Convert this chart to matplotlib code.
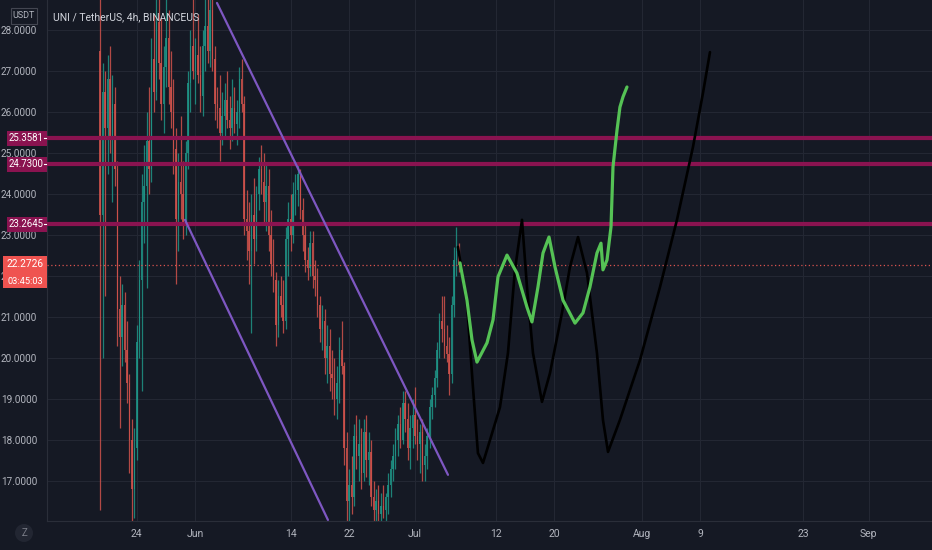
import numpy as np
import matplotlib
matplotlib.use("Agg")
import matplotlib.pyplot as plt
from matplotlib import transforms
from matplotlib.patches import Rectangle, Ellipse
from matplotlib.lines import Line2D

# x values are days relative to 1 July
first_candle_day = -43.0
candle_step = 1 / 3  # 8h candles
first_open = 27.5

highs = [28.8, 27.2, 27.0, 27.4, 27.6, 26.9, 26.6, 24.8, 22.0, 21.8,
         21.6, 20.9, 19.6, 18.5, 18.3, 20.8, 22.4, 24.5, 25.2, 26.0,
         26.6, 27.8, 28.4, 28.8, 28.8, 28.3, 27.6, 28.8, 28.5, 27.5,
         26.8, 25.6, 25.0, 25.9, 24.8, 25.3, 27.0, 28.0, 28.8, 27.8,
         28.4, 27.6, 28.0, 28.8, 28.8, 28.8, 28.8, 27.6, 26.6, 26.9,
         26.5, 26.7, 27.0, 26.4, 26.8, 26.6, 26.3, 27.1, 27.3, 26.4,
         24.1, 23.8, 24.0, 24.4, 24.2, 24.9, 25.2, 25.0, 24.7, 24.6,
         23.6, 22.9, 22.1, 21.9, 22.0, 21.9, 23.2, 23.8, 24.0, 24.3,
         24.5, 24.7, 24.6, 23.9, 23.3, 22.7, 23.1, 23.1, 22.4, 22.2,
         21.5, 21.3, 21.2, 20.8, 20.7, 20.2, 20.0, 19.8, 20.5, 20.9,
         19.9, 18.2, 17.3, 17.6, 18.4, 18.6, 18.5, 18.3, 18.5, 18.6,
         18.2, 18.0, 17.0, 16.8, 16.9, 16.7, 16.9, 16.7, 17.2, 17.5,
         17.9, 18.3, 18.6, 18.8, 19.2, 19.2, 18.9, 18.6, 19.0, 19.3,
         18.5, 18.4, 18.5, 17.9, 18.3, 19.0, 19.3, 19.7, 20.4, 21.1,
         21.5, 21.5, 20.8, 20.5, 21.5, 22.7, 23.2, 22.8]
lows = [16.3, 20.0, 21.5, 24.5, 25.0, 23.8, 24.2, 20.3, 18.3, 19.8,
        19.9, 18.9, 17.2, 16.0, 16.1, 17.5, 20.0, 19.2, 22.8, 21.7,
        24.0, 24.3, 26.0, 26.3, 26.8, 25.8, 25.5, 26.6, 26.2, 25.6,
        24.5, 21.8, 22.6, 23.4, 22.9, 23.0, 24.6, 26.0, 26.8, 26.2,
        26.7, 26.0, 25.9, 27.0, 27.2, 27.1, 27.0, 25.8, 25.6, 24.8,
        25.2, 25.4, 25.6, 25.1, 25.3, 25.5, 25.2, 25.6, 26.0, 23.0,
        22.4, 21.8, 20.6, 22.3, 22.6, 23.6, 24.0, 23.3, 23.1, 22.6,
        22.0, 21.6, 20.3, 20.5, 21.0, 20.6, 20.7, 22.0, 22.6, 22.8,
        23.5, 23.7, 23.4, 22.6, 22.1, 21.9, 22.0, 21.7, 21.5, 21.0,
        20.4, 20.2, 19.6, 19.4, 19.2, 19.0, 18.6, 18.5, 18.9, 19.6,
        17.4, 16.0, 16.0, 16.2, 16.4, 17.3, 17.0, 16.8, 17.0, 17.1,
        16.9, 16.4, 16.0, 16.0, 16.0, 16.0, 16.1, 16.0, 16.2, 16.6,
        17.0, 17.3, 17.6, 17.8, 17.9, 18.2, 17.5, 17.3, 17.8, 17.9,
        17.5, 17.2, 17.0, 17.0, 17.3, 17.8, 18.5, 18.8, 19.3, 20.0,
        20.4, 20.0, 19.9, 19.1, 19.4, 21.0, 22.0, 22.1]
closes = [23.5, 26.5, 25.6, 26.8, 25.4, 26.2, 24.6, 21.2, 20.5, 21.3,
          20.2, 19.4, 18.0, 16.8, 17.8, 20.4, 21.9, 23.8, 24.2, 25.3,
          24.6, 27.3, 26.5, 28.2, 27.2, 26.2, 27.1, 27.8, 26.6, 26.0,
          25.1, 23.4, 24.3, 24.0, 23.3, 25.0, 26.7, 27.6, 27.0, 27.4,
          26.9, 26.4, 27.6, 28.1, 27.5, 28.5, 27.3, 26.2, 26.1, 25.5,
          25.9, 26.3, 25.8, 25.6, 26.1, 25.7, 26.0, 26.8, 26.2, 23.4,
          23.1, 22.6, 23.5, 22.9, 24.0, 24.6, 24.3, 23.8, 24.2, 23.0,
          22.3, 21.9, 20.8, 21.5, 21.3, 20.9, 22.9, 23.4, 23.0, 24.0,
          24.1, 24.5, 23.6, 23.0, 22.4, 22.2, 22.8, 22.0, 21.9, 21.3,
          20.7, 20.9, 20.0, 20.3, 19.6, 19.5, 19.0, 19.4, 20.2, 19.8,
          17.8, 16.5, 16.9, 16.6, 18.1, 17.6, 17.9, 17.2, 18.2, 17.5,
          17.7, 16.6, 16.3, 16.5, 16.2, 16.4, 16.3, 16.6, 16.9, 17.3,
          17.6, 18.0, 18.4, 18.0, 18.9, 18.5, 17.8, 18.3, 18.6, 18.1,
          17.9, 18.2, 17.4, 17.6, 18.1, 18.8, 19.1, 19.5, 20.2, 20.9,
          20.7, 20.3, 20.1, 19.6, 21.3, 22.4, 22.6, 22.2726]

# hand drawn projections
green_days = [6.15, 7.1, 7.79, 8.47, 9.84, 10.66, 11.34, 12.57, 13.93, 15.3,
              15.98, 16.8, 17.49, 18.31, 19.13, 20.22, 21.86, 22.95, 23.9, 24.86,
              25.41, 25.68, 26.23, 26.78, 27.05, 27.6, 28.0, 28.42, 28.96]
green_prices = [22.32, 21.41, 20.44, 19.90, 20.37, 20.93, 21.98, 22.51, 22.07, 21.24,
                20.88, 21.73, 22.56, 22.95, 22.22, 21.41, 20.85, 21.10, 21.73, 22.56,
                22.80, 22.15, 22.39, 23.20, 24.66, 25.56, 26.12, 26.37, 26.61]
black_days = [5.87, 7.1, 7.92, 8.6, 9.29, 10.25, 11.61, 12.7, 13.66, 14.62,
              15.3, 16.12, 17.35, 18.44, 20.08, 21.17, 22.27, 23.5, 24.86, 25.68,
              26.37, 28.0, 30.74, 33.47, 35.79, 37.98, 39.34, 40.3]
black_prices = [22.71, 21.34, 19.29, 17.68, 17.44, 18.0, 18.80, 20.12, 22.15, 23.37,
                21.73, 20.12, 18.93, 19.63, 21.10, 22.22, 22.95, 22.07, 20.12, 18.49,
                17.71, 18.49, 19.95, 21.73, 23.37, 25.15, 26.46, 27.46]

# channel lines (day, price)
upper_channel = ([-27.05, 4.51], [28.66, 17.15])
lower_channel = ([-31.42, -11.89], [23.37, 16.05])

levels = [25.3581, 24.7300, 23.2645]
last_price = 22.2726
countdown = "03:45:03"

price_ticks = list(range(17, 29))
date_ticks = [-38, -30, -17, -9, 0, 11, 19, 31, 39, 53, 62]
date_labels = ["24", "Jun", "14", "22", "Jul", "12", "20", "Aug", "9", "23", "Sep"]

bg = "#151924"
grid_c = "#232733"
text_c = "#b2b5be"
level_c = "#8a1350"
up_c = "#1f9487"
down_c = "#d0524c"
plt.rcParams["font.family"] = ["Roboto", "DejaVu Sans"]

W, H = 932, 550
fig = plt.figure(figsize=(W / 100, H / 100), dpi=100, facecolor=bg)
ax = fig.add_axes([47 / W, 29 / H, (W - 47) / W, 521 / H], facecolor=bg)
ax.set_xlim(-50.27, 70.63)
ax.set_ylim(16.024, 28.732)

for s in ax.spines.values():
    s.set_visible(False)
for side in ("left", "bottom"):
    ax.spines[side].set_visible(True)
    ax.spines[side].set_color("#2a2e39")

ax.set_yticks(price_ticks)
ax.set_yticklabels([f"{v:.4f}" for v in price_ticks])
ax.set_xticks(date_ticks)
ax.set_xticklabels(date_labels)
ax.tick_params(axis="y", length=0, pad=7, labelsize=7.2, labelcolor=text_c)
ax.tick_params(axis="x", length=0, pad=6, labelsize=7.5, labelcolor=text_c)
ax.grid(True, color=grid_c, linewidth=0.8)
ax.set_axisbelow(True)

# candles
opens = [first_open] + closes[:-1]
xs = first_candle_day + candle_step * np.arange(len(closes))
for x, o, h, l, c in zip(xs, opens, highs, lows, closes):
    col = up_c if c >= o else down_c
    ax.vlines(x, l, h, color=col, linewidth=0.9, alpha=0.85, zorder=2)
    ax.add_patch(Rectangle((x - 0.1, min(o, c)), 0.2, max(abs(c - o), 0.03),
                           facecolor=col, edgecolor="none", alpha=0.85, zorder=2))

# horizontal levels
for lv in levels:
    ax.axhline(lv, color=level_c, linewidth=3, zorder=3)
ax.axhline(last_price, color="#d9534f", linewidth=0.9, linestyle=(0, (1, 2)), zorder=3)

# channel
ax.plot(*upper_channel, color="#7e57c2", linewidth=1.6, zorder=4, solid_capstyle="round")
ax.plot(*lower_channel, color="#7e57c2", linewidth=1.6, zorder=4, solid_capstyle="round")

# drawings
ax.plot(black_days, black_prices, color="#000000", linewidth=1.9, zorder=5,
        solid_joinstyle="round", solid_capstyle="round")
ax.plot(green_days, green_prices, color="#55c255", linewidth=2.3, zorder=6,
        solid_joinstyle="round", solid_capstyle="round")

# price labels on the axis
tr = transforms.blended_transform_factory(fig.transFigure, ax.transData)
box_h = 15 / 41
for lv in levels:
    fig.patches.append(Rectangle((7 / W, lv - box_h / 2), 40 / W, box_h, transform=tr,
                                 facecolor=level_c, edgecolor="none", zorder=5))
    fig.text(8.5 / W, lv, f"{lv:.4f}", transform=tr, color="white", fontsize=6.9,
             va="center", ha="left", zorder=6)
    fig.lines.append(Line2D([43.5 / W, 46 / W], [lv, lv], transform=tr,
                            color="white", linewidth=0.8, zorder=6))

fig.patches.append(Rectangle((3 / W, 21.71), 44 / W, 22.49 - 21.71, transform=tr,
                             facecolor="#ef5350", edgecolor="none", zorder=5))
fig.text(25 / W, last_price + 0.02, f"{last_price:.4f}", transform=tr, color="white",
         fontsize=7.3, va="center", ha="center", zorder=6)
fig.text(25 / W, 21.86, countdown, transform=tr, color="white",
         fontsize=6.7, va="center", ha="center", zorder=6)

# header
fig.patches.append(Rectangle((11 / W, 1 - 24 / H), 26 / W, 16 / H, transform=fig.transFigure,
                             facecolor=bg, edgecolor="#434651", linewidth=0.8))
fig.text(24 / W, 1 - 16 / H, "USDT", color=text_c, fontsize=6.5, ha="center", va="center")
fig.text(53 / W, 1 - 17 / H, "UNI / TetherUS, 4h, BINANCEUS", color="#d1d4dc",
         fontsize=7.5, ha="left", va="center")

# Z button
fig.patches.append(Ellipse((24 / W, 17 / H), 18 / W, 18 / H, transform=fig.transFigure,
                           facecolor="#222632", edgecolor="none"))
fig.text(24 / W, 17 / H, "Z", color="#787b86", fontsize=7, ha="center", va="center")

fig.savefig("out.png", dpi=100, facecolor=bg)
